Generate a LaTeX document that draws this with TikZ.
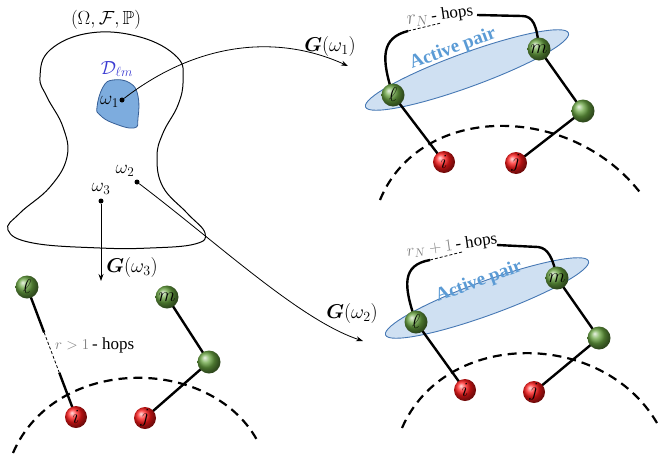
\RequirePackage{fix-cm}
\documentclass[tikz,border=0pt]{standalone}
\usepackage{amssymb}
\usepackage{bm}
\usepackage{fontspec}
\newfontfamily\tnr{Liberation Serif}
\usetikzlibrary{arrows.meta,shapes.geometric,calc}
\pgfdeclarelayer{back}
\pgfdeclarelayer{mid}
\pgfsetlayers{back,mid,main}
\definecolor{ballg}{RGB}{105,165,65}
\definecolor{ballr}{RGB}{255,25,25}
\definecolor{pairfill}{RGB}{207,224,242}
\definecolor{pairline}{RGB}{70,120,180}
\definecolor{pairtext}{RGB}{91,155,213}
\definecolor{dfill}{RGB}{125,172,222}
\definecolor{dline}{RGB}{55,95,150}
\definecolor{dlab}{RGB}{60,60,210}
\begin{document}
\begin{tikzpicture}[x=1pt,y=-1pt,
  every node/.style={font=\fontsize{19}{22}\selectfont},
  gball/.style={circle,inner sep=0pt,minimum size=23pt,ball color=ballg,font=\fontsize{20}{22}\selectfont},
  rball/.style={circle,inner sep=0pt,minimum size=22pt,ball color=ballr,font=\fontsize{20}{22}\selectfont},
  edge/.style={line width=2.4pt},
  hopdash/.style={line width=0.8pt,dash pattern=on 3pt off 2pt},
  boundary/.style={line width=2.2pt,dash pattern=on 9pt off 6pt},
  maparrow/.style={line width=0.8pt,-{Stealth[length=7pt,width=5pt]}},
  pair/.style={ellipse,draw=pairline,fill=pairfill,line width=0.9pt,minimum width=216pt,minimum height=34pt,inner sep=0pt},
  pairlabel/.style={text=pairtext,inner sep=0pt,font=\fontsize{19}{22}\selectfont\tnr\bfseries},
  hoplabel/.style={inner sep=0pt,font=\fontsize{17}{20}\selectfont},
  glabel/.style={font=\fontsize{20}{24}\selectfont},
  dot/.style={circle,fill=black,inner sep=0pt,minimum size=5pt},
]
\useasboundingbox (0,0) rectangle (658,458);

% probability space
\draw[line width=1pt] plot[smooth cycle, tension=0.7] coordinates {(40,77) (50,50) (90,33) (140,37) (177,57) (183,80) (178,105) (163,133) (157,157) (163,187) (187,213) (205,233) (195,244) (150,248) (100,248) (33,243) (8,230) (20,213) (50,187) (67,157) (63,127) (47,97)};
\draw[draw=dline, fill=dfill, line width=0.8pt] plot[smooth cycle, tension=0.75] coordinates {(97,107) (103,87) (113,80) (130,83) (138,96) (138,118) (134,128) (113,123) (100,115)};
\node (om) at (106,20) {$(\Omega,\mathcal{F},\mathbb{P})$};
\node[text=dlab] (dlm) at (117,69) {$\mathcal{D}_{\ell m}$};
\node[dot] (w1) at (122,100) {};
\node[anchor=east,inner sep=1pt] (w1l) at (120,102) {$\omega_1$};
\node[dot] (w2) at (137,182) {};
\node (w2l) at (125,171) {$\omega_2$};
\node[dot] (w3) at (101,201) {};
\node (w3l) at (101,189) {$\omega_3$};

% mapping arrows
\coordinate (g1e) at (348,66);
\coordinate (g2e) at (363,341);
\coordinate (g3e) at (101,281);
\draw[maparrow] (w1) .. controls (200,40) and (280,35) .. (g1e);
\draw[maparrow] (w2) .. controls (220,245) and (300,320) .. (g2e);
\draw[maparrow] (w3) -- (g3e);
\node[glabel] (g1l) at (330,46) {$\bm{G}(\omega_1)$};
\node[glabel] (g2l) at (352,313) {$\bm{G}(\omega_2)$};
\node[glabel] (g3l) at (132,267) {$\bm{G}(\omega_3)$};

% ---------- top right graph
\node[gball] (l1) at (393,95) {$\ell$};
\node[gball] (m1) at (539,49) {$m$};
\node[gball] (u1) at (583,111) {};
\node[rball] (i1) at (444,162) {$i$};
\node[rball] (j1) at (516,163) {$j$};
\coordinate (a1) at (408,31);
\coordinate (b1) at (441,23);
\coordinate (c1) at (477,15);
\coordinate (d1) at (522,16);
\begin{pgfonlayer}{back}
\draw[boundary] (380,200) .. controls (420,102) and (572,102) .. (642,195);
\node[pair, rotate=20] (e1) at (467,70) {};
\node[pairlabel, rotate=20] (e1l) at (453,49) {Active pair};
\end{pgfonlayer}
\begin{pgfonlayer}{mid}
\draw[edge] (l1.center) -- (i1.center);
\draw[edge] (m1.center) -- (u1.center);
\draw[edge] (u1.center) -- (j1.center);
\draw[edge] (l1.center) .. controls (381,58) and (381,38) .. (a1);
\draw[hopdash] (a1) -- (b1);
\draw[edge] (c1) -- (d1) .. controls (533,16) and (537,25) .. (m1.center);
\end{pgfonlayer}
\node[hoplabel, rotate=8] (t1) at (440,16) {\textcolor{gray}{\fontsize{20}{22}\selectfont$r_N$}\,{\tnr - hops}};

% ---------- bottom right graph
\node[gball] (l2) at (416,322) {$\ell$};
\node[gball] (m2) at (557,278) {$m$};
\node[gball] (u2) at (599,338) {};
\node[rball] (i2) at (465,390) {$i$};
\node[rball] (j2) at (534,392) {$j$};
\coordinate (a2) at (430,260);
\coordinate (b2) at (462,252);
\coordinate (c2) at (497,245);
\coordinate (d2) at (538,247);
\begin{pgfonlayer}{back}
\draw[boundary] (402,428) .. controls (445,329) and (602,329) .. (657,423);
\node[pair, rotate=20] (e2) at (487,298) {};
\node[pairlabel, rotate=20] (e2l) at (479,282) {Active pair};
\end{pgfonlayer}
\begin{pgfonlayer}{mid}
\draw[edge] (l2.center) -- (i2.center);
\draw[edge] (m2.center) -- (u2.center);
\draw[edge] (u2.center) -- (j2.center);
\draw[edge] (l2.center) .. controls (403,285) and (402,265) .. (a2);
\draw[hopdash] (a2) -- (b2);
\draw[edge] (c2) -- (d2) .. controls (548,248) and (553,258) .. (m2.center);
\end{pgfonlayer}
\node[hoplabel, rotate=8] (t2) at (452,246) {\textcolor{gray}{$r_N+1$}\,{\tnr - hops}};

% ---------- bottom left graph
\node[gball] (l3) at (27,287) {$\ell$};
\node[gball] (m3) at (167,297) {$m$};
\node[gball] (u3) at (209,362) {};
\node[rball] (i3) at (76,417) {$i$};
\node[rball] (j3) at (145,418) {$j$};
\coordinate (p3) at ($(l3)!0.35!(i3)$);
\coordinate (q3) at ($(l3)!0.66!(i3)$);
\begin{pgfonlayer}{back}
\draw[boundary] (13,453) .. controls (55,355) and (210,355) .. (257,440);
\end{pgfonlayer}
\begin{pgfonlayer}{mid}
\draw[edge] (l3.center) -- (p3);
\draw[hopdash] (p3) -- (q3);
\draw[edge] (q3) -- (i3.center);
\draw[edge] (m3.center) -- (u3.center);
\draw[edge] (u3.center) -- (j3.center);
\end{pgfonlayer}
\node[hoplabel, anchor=west] (t3) at (55,345) {\textcolor{gray}{\fontsize{15}{17}\selectfont$r>1$}\,{\tnr - hops}};
\end{tikzpicture}
\end{document}
